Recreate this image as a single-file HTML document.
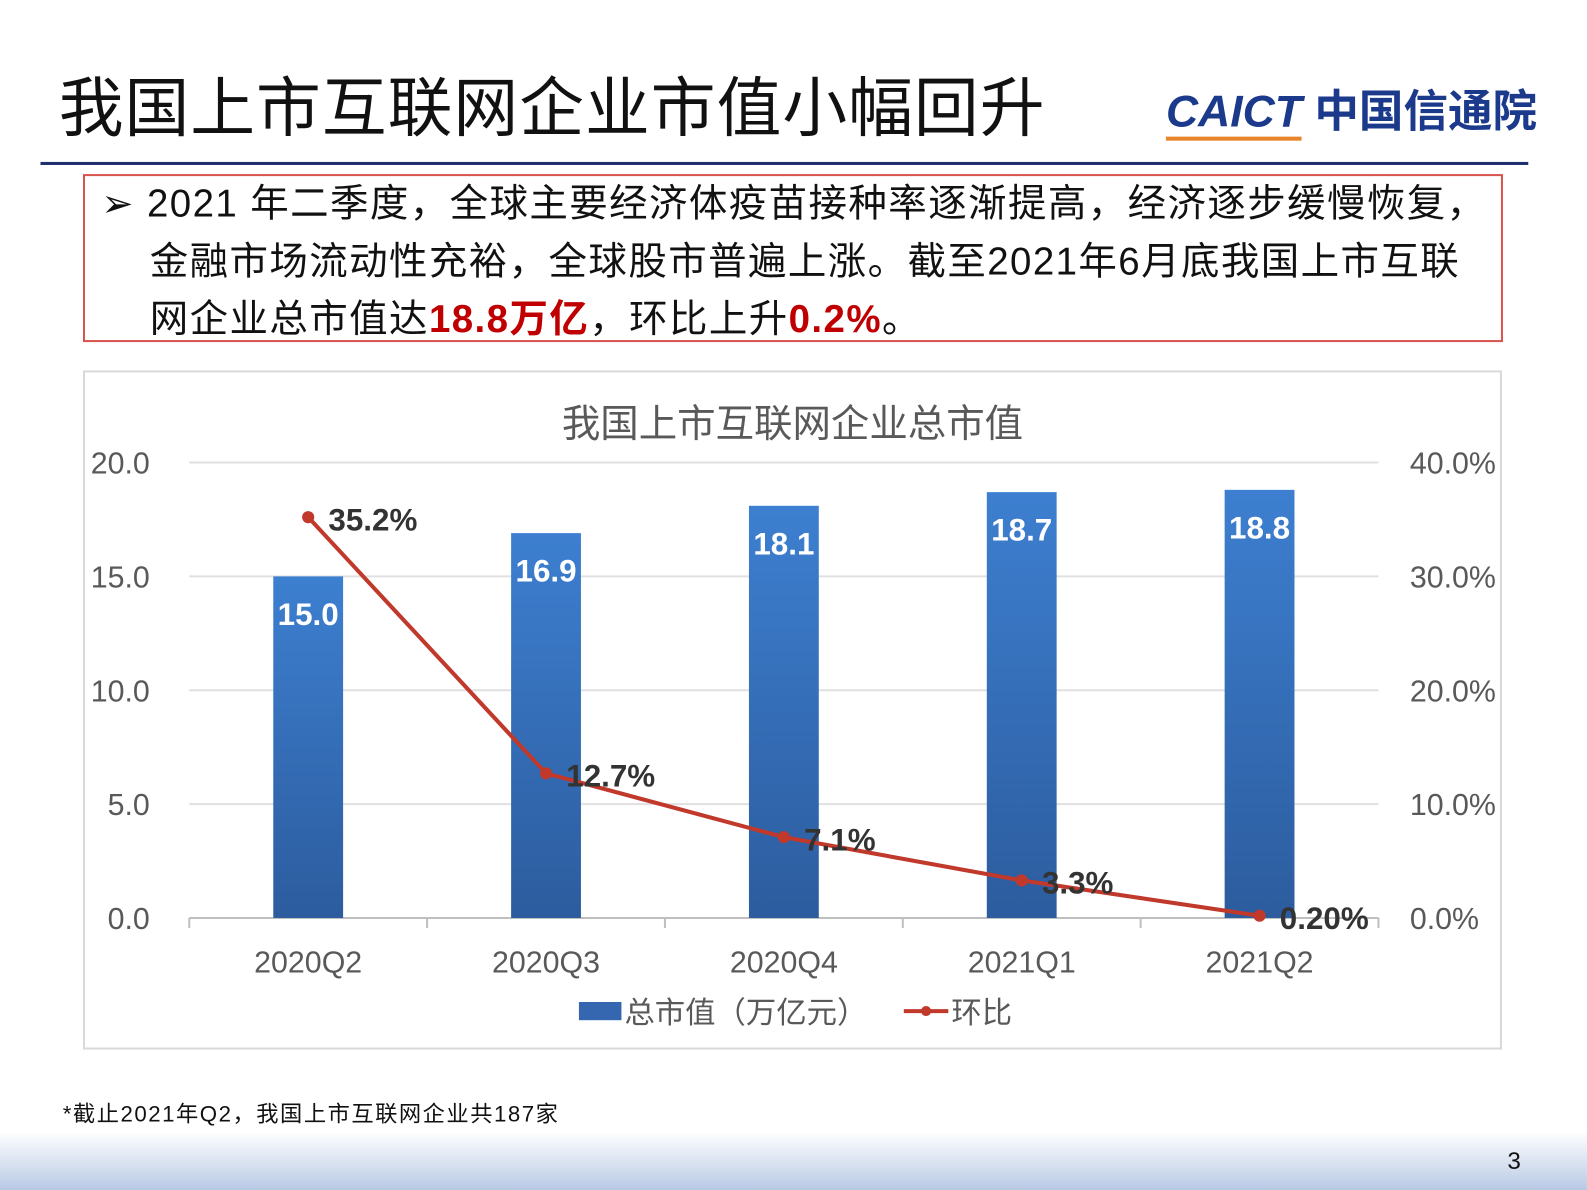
<!DOCTYPE html>
<html><head><meta charset="utf-8"><style>
html,body{margin:0;padding:0;background:#fff;overflow:hidden}
#wrap{width:1568px;height:1176px;transform:scale(1.0121);transform-origin:0 0;position:relative;font-family:"Liberation Sans","Noto Sans CJK SC",sans-serif}
.abs{position:absolute}
</style></head><body>
<div id="wrap">
<div class="abs" style="left:58px;top:56px;font-size:64px;color:#111;letter-spacing:1px">我国上市互联网企业市值小幅回升</div>
<div class="abs" style="left:1152px;top:74px;font-size:44px;font-weight:bold;color:#1c3a8c;white-space:nowrap"><span style="font-style:italic;border-bottom:4px solid #e8842a">CAICT</span> 中国信通院</div>
<div class="abs" style="left:40px;top:160px;width:1470px;height:3px;background:#1f2e6e"></div>
<div class="abs" style="left:82px;top:172px;width:1403px;height:166px;border:2px solid #d9534f;box-sizing:border-box"></div>
<div class="abs" style="left:100px;top:174px;width:1380px;font-size:38px;line-height:57px;color:#111;letter-spacing:1.4px;white-space:nowrap">
<div>➢ 2021 年二季度，全球主要经济体疫苗接种率逐渐提高，经济逐步缓慢恢复，</div>
<div style="padding-left:48px">金融市场流动性充裕，全球股市普遍上涨。截至2021年6月底我国上市互联</div>
<div style="padding-left:48px">网企业总市值达<b style="color:#c00000">18.8万亿</b>，环比上升<b style="color:#c00000">0.2%</b>。</div>
</div>
<div class="abs" style="left:82px;top:366px;width:1402px;height:671px;border:2px solid #d9d9d9;box-sizing:border-box"></div>
<svg class="abs" style="left:0;top:0" width="1568" height="1176" id="chart">
<defs><linearGradient id="bg" x1="0" y1="0" x2="0" y2="1"><stop offset="0" stop-color="#3d7fd0"/><stop offset="1" stop-color="#2c5c9e"/></linearGradient>
<linearGradient id="foot" x1="0" y1="0" x2="0" y2="1"><stop offset="0" stop-color="#ffffff"/><stop offset="1" stop-color="#b8c9e4"/></linearGradient></defs>
<text x="783" y="432" text-anchor="middle" font-size="38" fill="#595959">我国上市互联网企业总市值</text>
<g id="grid"></g><g id="bars"></g><g id="line"></g><g id="labels"></g>
<g>
<rect x="572" y="990" width="42" height="18" fill="#3567b0"/>
<text x="617" y="1011" font-size="30" fill="#595959">总市值（万亿元）</text>
<line x1="893" y1="999" x2="937" y2="999" stroke="#c0392b" stroke-width="4"/><circle cx="915" cy="999" r="5" fill="#c0392b"/>
<text x="940" y="1011" font-size="30" fill="#595959">环比</text>
</g>
<text x="62" y="1108" font-size="22" fill="#111" letter-spacing="1.5">*截止2021年Q2，我国上市互联网企业共187家</text>
<rect x="0" y="1118" width="1568" height="58" fill="url(#foot)"/>
<text x="1496" y="1155" font-size="24" fill="#111" text-anchor="middle">3</text>
</svg>
</div>
<script>
const categories=["2020Q2","2020Q3","2020Q4","2021Q1","2021Q2"];
const marketValue=[15.0,16.9,18.1,18.7,18.8];
const growth=[35.2,12.7,7.1,3.3,0.20];
const growthLabels=["35.2%","12.7%","7.1%","3.3%","0.20%"];
const leftTicks=[0,5,10,15,20];
const rightTicks=[0,10,20,30,40];
const NS="http://www.w3.org/2000/svg";
const X0=187,X1=1362,Y0=907,Y1=457;
const yL=v=>Y0-(v/20)*(Y0-Y1);
const yR=v=>Y0-(v/40)*(Y0-Y1);
const band=(X1-X0)/categories.length;
const xC=i=>X0+band*(i+0.5);
function mk(tag,attrs,parent,txt){const e=document.createElementNS(NS,tag);for(const k in attrs)e.setAttribute(k,attrs[k]);if(txt!==undefined)e.textContent=txt;parent.appendChild(e);return e;}
const grid=document.getElementById('grid'),bars=document.getElementById('bars'),line=document.getElementById('line'),labels=document.getElementById('labels');
leftTicks.forEach((t,i)=>{
 const y=yL(t);
 const g=mk('line',{x1:X0,x2:X1,y1:y,y2:y,stroke:i===0?'#bfbfbf':'#e0e0e0','stroke-width':2},grid);
 
 const tl=mk('text',{x:148,y:y+11,'text-anchor':'end','font-size':30,fill:'#595959'},grid,t.toFixed(1));
 
});
rightTicks.forEach(t=>{
 const tr=mk('text',{x:1393,y:yR(t)+11,'font-size':30,fill:'#595959'},grid,t.toFixed(1)+'%');
 
});
for(let i=0;i<=categories.length;i++){mk('line',{x1:X0+band*i,x2:X0+band*i,y1:Y0,y2:Y0+10,stroke:'#bfbfbf','stroke-width':2},grid);}
categories.forEach((c,i)=>{
 const x=xC(i),y=yL(marketValue[i]);
 const b=mk('rect',{x:x-34.5,y:y,width:69,height:Y0-y,fill:'url(#bg)'},bars);
 
 const bl=mk('text',{x:x,y:y+48,'text-anchor':'middle','font-size':31,'font-weight':'bold',fill:'#fff'},labels,marketValue[i].toFixed(1));
 
 const cl=mk('text',{x:x,y:961,'text-anchor':'middle','font-size':30,fill:'#595959'},labels,c);
 
});
const pts=growth.map((v,i)=>xC(i)+','+yR(v)).join(' ');
const pl=mk('polyline',{points:pts,fill:'none',stroke:'#c0392b','stroke-width':4},line);

growth.forEach((v,i)=>{
 const c=mk('circle',{cx:xC(i),cy:yR(v),r:6,fill:'#c0392b'},line);
 
 const t=mk('text',{x:xC(i)+20,y:yR(v)+13,'font-size':31,'font-weight':'bold',fill:'#333'},labels,growthLabels[i]);
 
});
</script>
</body></html>
